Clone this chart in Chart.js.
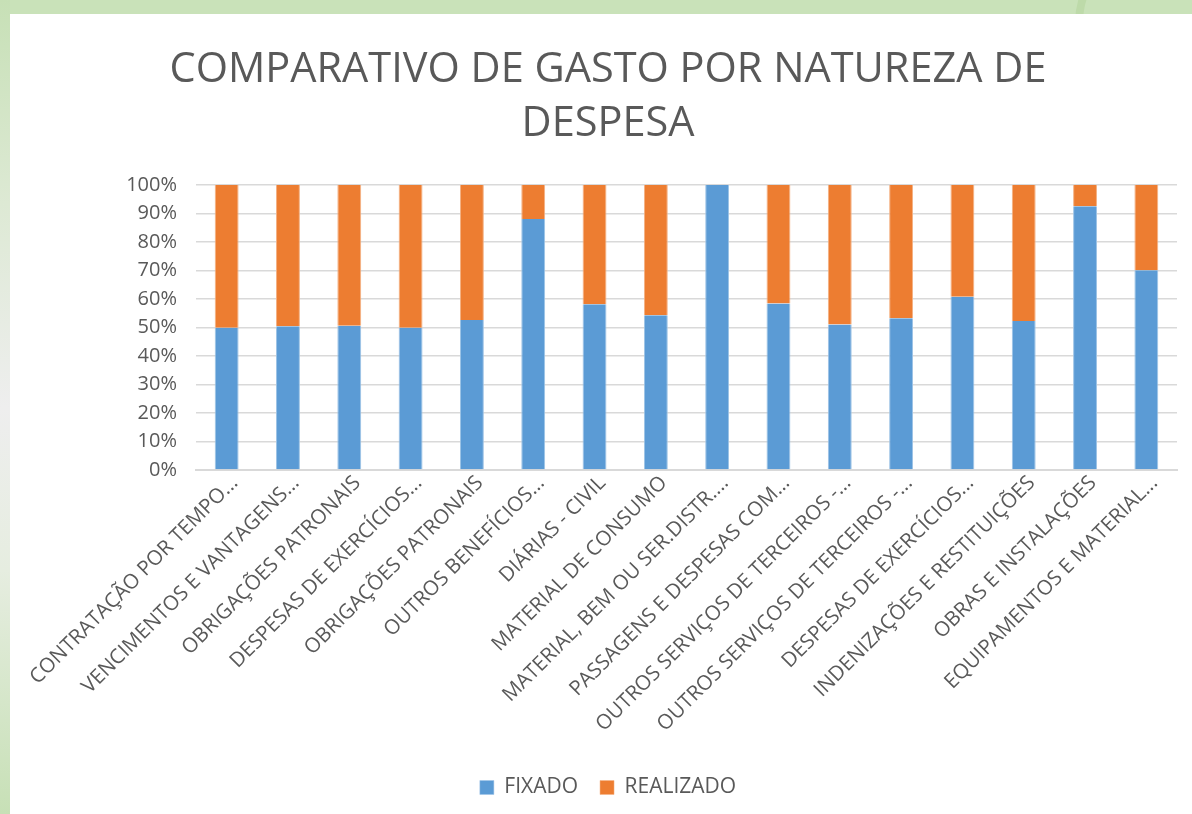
<!DOCTYPE html>
<html>
<head>
<meta charset="utf-8">
<script src="https://cdn.jsdelivr.net/npm/chart.js@4"></script>
<style>
  html, body { margin: 0; padding: 0; }
  body {
    width: 1192px; height: 814px; overflow: hidden; position: relative;
    background: #c9e2b9;
  }
  #leftStrip {
    position: absolute; left: 0; top: 0; width: 10px; height: 814px;
    background: linear-gradient(to bottom, #c7e0b6 0%, #dde9d4 25%, #eeeeee 50%, #e6ede0 70%, #c7e0b6 100%);
  }
  #ring {
    position: absolute; left: 1075px; top: -60px; width: 150px; height: 150px;
    border: 8px solid #bddaa9; border-radius: 50%;
  }
  #panel {
    position: absolute; left: 10px; top: 14px; width: 1182px; height: 800px;
    background: #ffffff;
  }
</style>
</head>
<body>
<div id="leftStrip"></div>
<div id="ring"></div>
<div id="panel"><canvas id="chart" width="1182" height="800"></canvas></div>
<script>
// categorias (rótulos truncados como no gráfico original)
const categorias = [
  "CONTRATAÇÃO POR TEMPO...",
  "VENCIMENTOS E VANTAGENS...",
  "OBRIGAÇÕES PATRONAIS",
  "DESPESAS DE EXERCÍCIOS...",
  "OBRIGAÇÕES PATRONAIS",
  "OUTROS BENEFÍCIOS...",
  "DIÁRIAS - CIVIL",
  "MATERIAL DE CONSUMO",
  "MATERIAL, BEM OU SER.DISTR....",
  "PASSAGENS E DESPESAS COM...",
  "OUTROS SERVIÇOS DE TERCEIROS -...",
  "OUTROS SERVIÇOS DE TERCEIROS -...",
  "DESPESAS DE EXERCÍCIOS...",
  "INDENIZAÇÕES E RESTITUIÇÕES",
  "OBRAS E INSTALAÇÕES",
  "EQUIPAMENTOS E MATERIAL..."
];

// participação (%) de cada série
const fixado    = [49.9, 50.4, 50.6, 49.9, 52.6, 88.0, 58.1, 54.3, 100.0, 58.4, 51.0, 53.2, 60.8, 52.3, 92.5, 70.1];
const realizado = [50.1, 49.6, 49.4, 50.1, 47.4, 12.0, 41.9, 45.7,   0.0, 41.6, 49.0, 46.8, 39.2, 47.7,  7.5, 29.9];

const tituloLinhas = ["COMPARATIVO DE GASTO POR NATUREZA DE", "DESPESA"];

const cinza = "#595959";
const fonte = "'Open Sans', 'Noto Sans', sans-serif";

new Chart(document.getElementById("chart"), {
  type: "bar",
  data: {
    labels: categorias,
    datasets: [
      {
        label: "FIXADO",
        data: fixado,
        backgroundColor: "#5b9bd5",
        borderColor: "#9cc3e6",
        borderWidth: { left: 1, right: 1, top: 0, bottom: 0 },
        barPercentage: 0.39,
        categoryPercentage: 1
      },
      {
        label: "REALIZADO",
        data: realizado,
        backgroundColor: "#ed7d31",
        borderColor: "#f4b183",
        borderWidth: { left: 1, right: 1, top: 0, bottom: 0 },
        barPercentage: 0.39,
        categoryPercentage: 1
      }
    ]
  },
  options: {
    responsive: false,
    animation: false,
    layout: { padding: { left: 29, right: 15, top: 0, bottom: 6 } },
    plugins: {
      title: {
        display: true,
        text: tituloLinhas,
        color: cinza,
        font: { family: fonte, size: 41.5, weight: "normal", lineHeight: 1.3 },
        padding: { top: 29, bottom: 34 }
      },
      legend: {
        position: "bottom",
        labels: {
          color: cinza,
          font: { family: fonte, size: 21 },
          boxWidth: 14,
          boxHeight: 14,
          padding: 22
        }
      },
      tooltip: { enabled: false }
    },
    scales: {
      x: {
        stacked: true,
        grid: { display: false, drawTicks: false },
        border: { display: true, color: "#d9d9d9", width: 2 },
        ticks: {
          color: cinza,
          font: { family: fonte, size: 20.5 },
          minRotation: 45,
          maxRotation: 45,
          autoSkip: false,
          padding: 1,
          labelOffset: 8
        },
        afterFit: (scale) => { scale.height = 285; }
      },
      y: {
        stacked: true,
        min: 0,
        max: 100,
        grid: { color: "#d9d9d9", lineWidth: 1.5, drawTicks: false },
        border: { display: false },
        ticks: {
          stepSize: 10,
          color: cinza,
          font: { family: fonte, size: 20 },
          padding: 19,
          callback: (v) => v + "%"
        },
        afterFit: (scale) => { scale.width = 157; }
      }
    }
  }
});
</script>
</body>
</html>
